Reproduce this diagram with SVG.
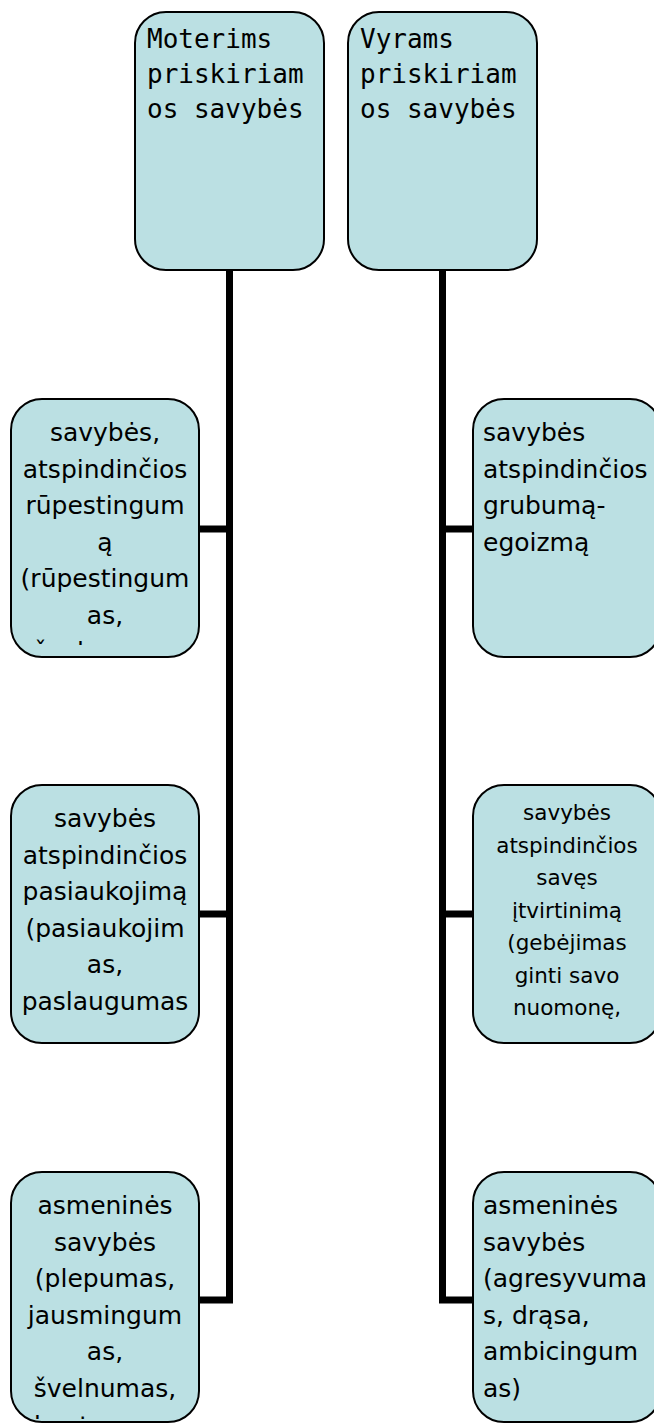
<svg xmlns="http://www.w3.org/2000/svg" width="654" height="1425" viewBox="0 0 654 1425">
<style>
.box{fill:#bbe0e3;stroke:#000;stroke-width:2}
.hd{font-family:"DejaVu Sans Mono","Liberation Mono",monospace;font-size:26px;fill:#000}
.bt{font-family:"DejaVu Sans","Noto Sans",sans-serif;font-size:25px;fill:#000}
.sm{font-size:21.5px}
.c{text-anchor:middle}
.conn{fill:none;stroke:#000;stroke-width:7;stroke-linejoin:miter;stroke-linecap:butt}
</style>
<defs>
<clipPath id="cl1"><rect x="11" y="405" width="188" height="240"/></clipPath>
<clipPath id="cl2"><rect x="11" y="791" width="188" height="243"/></clipPath>
<clipPath id="cl3"><rect x="11" y="1178" width="188" height="241"/></clipPath>
</defs>
<rect width="654" height="1425" fill="#fff"/>
<g id="connectors">
<path class="conn" d="M229.5 270 V1300 H199"/>
<path class="conn" d="M229.5 529 H199"/>
<path class="conn" d="M229.5 914 H199"/>
<path class="conn" d="M442.5 270 V1300 H473"/>
<path class="conn" d="M442.5 529 H473"/>
<path class="conn" d="M442.5 914 H473"/>
</g>
<g id="moterims">
<rect class="box" x="135" y="12" width="189" height="258" rx="31"/>
<text class="hd"><tspan x="147" y="48">Moterims</tspan><tspan x="147" y="83">priskiriam</tspan><tspan x="147" y="118">os savybės</tspan></text>
</g>
<g id="vyrams">
<rect class="box" x="348" y="12" width="189" height="258" rx="31"/>
<text class="hd"><tspan x="360" y="48">Vyrams</tspan><tspan x="360" y="83">priskiriam</tspan><tspan x="360" y="118">os savybės</tspan></text>
</g>
<g id="m1">
<rect class="box" x="11" y="399" width="188" height="258" rx="31"/>
<text class="bt c" clip-path="url(#cl1)"><tspan x="105" y="441">savybės,</tspan><tspan x="105" y="477.5">atspindinčios</tspan><tspan x="105" y="514">rūpestingum</tspan><tspan x="105" y="550.5">ą</tspan><tspan x="105" y="587">(rūpestingum</tspan><tspan x="105" y="623.5">as,</tspan><tspan x="105" y="660">švelnumas,</tspan></text>
</g>
<g id="m2">
<rect class="box" x="11" y="785" width="188" height="258" rx="31"/>
<text class="bt c" clip-path="url(#cl2)"><tspan x="105" y="827">savybės</tspan><tspan x="105" y="863.5">atspindinčios</tspan><tspan x="105" y="900">pasiaukojimą</tspan><tspan x="105" y="936.5">(pasiaukojim</tspan><tspan x="105" y="973">as,</tspan><tspan x="105" y="1009.5">paslaugumas</tspan></text>
</g>
<g id="m3">
<rect class="box" x="11" y="1172" width="188" height="250" rx="31"/>
<text class="bt c" clip-path="url(#cl3)"><tspan x="105" y="1214">asmeninės</tspan><tspan x="105" y="1250.5">savybės</tspan><tspan x="105" y="1287">(plepumas,</tspan><tspan x="105" y="1323.5">jausmingum</tspan><tspan x="105" y="1360">as,</tspan><tspan x="105" y="1396.5">švelnumas,</tspan><tspan x="105" y="1434">kantrumas,</tspan></text>
</g>
<g id="v1">
<rect class="box" x="473" y="399" width="188" height="258" rx="31"/>
<text class="bt"><tspan x="483" y="441">savybės</tspan><tspan x="483" y="477.5">atspindinčios</tspan><tspan x="483" y="514">grubumą-</tspan><tspan x="483" y="550.5">egoizmą</tspan></text>
</g>
<g id="v2">
<rect class="box" x="473" y="785" width="188" height="258" rx="31"/>
<text class="bt sm c"><tspan x="567" y="820">savybės</tspan><tspan x="567" y="852.5">atspindinčios</tspan><tspan x="567" y="885">savęs</tspan><tspan x="567" y="917.5">įtvirtinimą</tspan><tspan x="567" y="950">(gebėjimas</tspan><tspan x="567" y="982.5">ginti savo</tspan><tspan x="567" y="1015">nuomonę,</tspan></text>
</g>
<g id="v3">
<rect class="box" x="473" y="1172" width="188" height="250" rx="31"/>
<text class="bt"><tspan x="483" y="1214">asmeninės</tspan><tspan x="483" y="1250.5">savybės</tspan><tspan x="483" y="1287">(agresyvuma</tspan><tspan x="483" y="1323.5">s, drąsa,</tspan><tspan x="483" y="1360">ambicingum</tspan><tspan x="483" y="1396.5">as)</tspan></text>
</g>
</svg>
